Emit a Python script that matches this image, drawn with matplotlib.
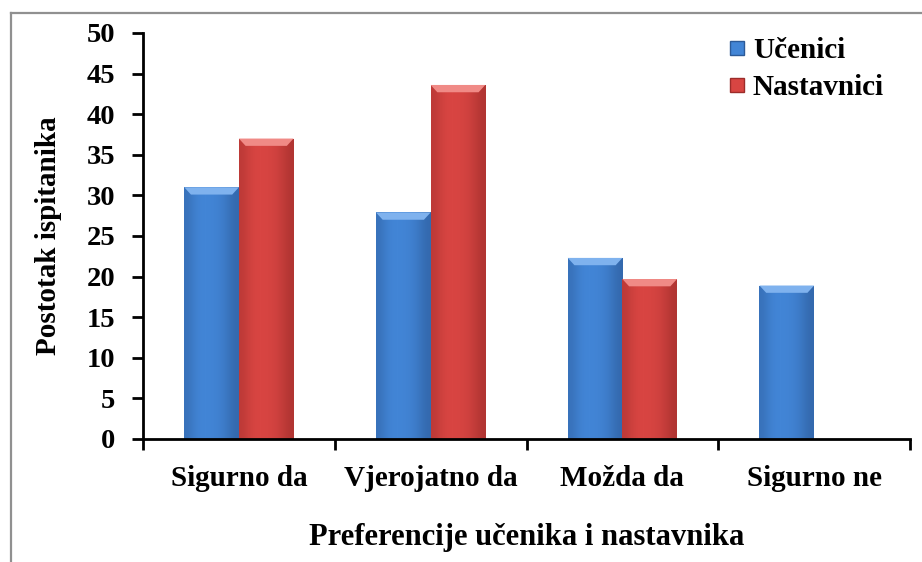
import numpy as np
import matplotlib.pyplot as plt
from matplotlib.patches import Polygon
from matplotlib.lines import Line2D

categories = ["Sigurno da", "Vjerojatno da", "Možda da", "Sigurno ne"]
ucenici = [31.0, 27.9, 22.3, 18.9]
nastavnici = [37.0, 43.6, 19.7, 0.0]
series_names = ["Učenici", "Nastavnici"]

plt.rcParams['font.family'] = ['Liberation Serif', 'DejaVu Serif']
plt.rcParams['font.weight'] = 'bold'

fig = plt.figure(figsize=(9.22, 5.62), dpi=100)
ax = fig.add_axes([0.1551, 0.2189, 0.8319, 0.7224])

x = np.arange(len(categories))
w = 0.285

# colours: (edge dark, middle, top bevel)
blue = ("#2c5a98", "#4285d6", "#7fb2ee")
red = ("#9c2c2a", "#d84542", "#f08a86")


def fancy_bars(xs, vals, cols):
    bars = ax.bar(xs, vals, width=w, color=cols[1], edgecolor="none", zorder=2)
    grad = np.array([[0.55, 0.85, 1.0, 1.0, 0.95, 0.85, 0.6, 0.35]])
    for b in bars:
        h = b.get_height()
        if h <= 0:
            continue
        x0 = b.get_x()
        bw = b.get_width()
        cmap = plt.matplotlib.colors.LinearSegmentedColormap.from_list(
            "g", [cols[0], cols[1]])
        im = ax.imshow(grad, extent=(x0, x0 + bw, 0, h), aspect="auto",
                       cmap=cmap, vmin=0, vmax=1, interpolation="bicubic",
                       zorder=2)
        im.set_clip_path(b)
        # bevel at the top
        bev = 0.9
        ax.add_patch(Polygon([(x0, h), (x0 + bw, h), (x0 + bw - 0.035, h - bev),
                              (x0 + 0.035, h - bev)], closed=True,
                             facecolor=cols[2], edgecolor="none", zorder=3))
    return bars


fancy_bars(x - w / 2, ucenici, blue)
fancy_bars(x + w / 2, nastavnici, red)

ax.set_xlim(-0.5, len(categories) - 0.5)
ax.set_ylim(0, 50)
ax.set_yticks(range(0, 51, 5))
ax.set_xticks(x)
ax.set_xticklabels(categories, fontsize=21, fontweight="bold")
ax.set_xticks(np.arange(-0.5, len(categories), 1), minor=True)
ax.tick_params(axis="x", which="major", length=0, pad=19)
ax.tick_params(axis="x", which="minor", length=8, width=2, direction="out")
ax.tick_params(axis="y", length=8, width=2, direction="out", pad=12,
               labelsize=20.5)
for lab in ax.get_yticklabels():
    lab.set_fontweight("bold")

for s in ["top", "right"]:
    ax.spines[s].set_visible(False)
for s in ["left", "bottom"]:
    ax.spines[s].set_linewidth(2)

ax.set_ylabel("Postotak ispitanika", fontsize=21, fontweight="bold", labelpad=18)
ax.set_xlabel("Preferencije učenika i nastavnika", fontsize=22,
              fontweight="bold", labelpad=22)

handles = [Line2D([], [], marker="s", linestyle="none", markersize=10,
                  markerfacecolor=blue[1], markeredgecolor=blue[0]),
           Line2D([], [], marker="s", linestyle="none", markersize=10,
                  markerfacecolor=red[1], markeredgecolor=red[0])]
ax.legend(handles, series_names, loc="upper right", bbox_to_anchor=(1.0, 1.055),
          frameon=False, prop={"size": 21, "weight": "bold"},
          handletextpad=0.05, labelspacing=0.35, handlelength=1.0)

# outer chart frame (top and left edges visible)
fig.add_artist(Line2D([10.5 / 922, 10.5 / 922], [0, 1 - 13 / 562],
                      color="#909090", lw=1.6))
fig.add_artist(Line2D([10.5 / 922, 1], [1 - 13 / 562, 1 - 13 / 562],
                      color="#909090", lw=1.6))

fig.savefig("out.png", dpi=100)
